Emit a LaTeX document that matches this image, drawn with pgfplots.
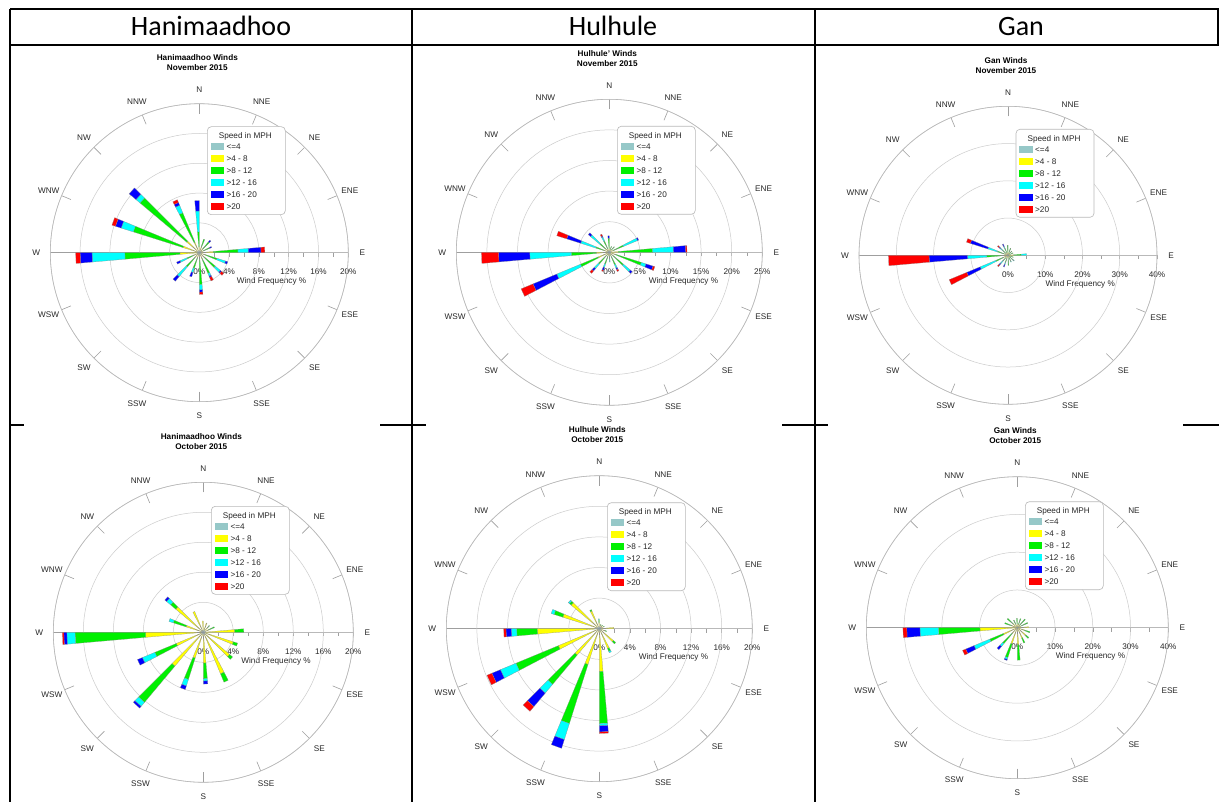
\documentclass[border=0pt]{standalone}
\usepackage{fontspec}
\setmainfont{Liberation Sans}
\newfontfamily\calibri{Carlito}
\usepackage{pgfplots}
\pgfplotsset{compat=1.18}
\usepgfplotslibrary{polar}

\definecolor{wgrey}{RGB}{150,200,200}
\definecolor{wyellow}{RGB}{255,255,0}
\definecolor{wgreen}{RGB}{0,240,0}
\definecolor{wcyan}{RGB}{0,255,255}
\definecolor{wblue}{RGB}{0,0,255}
\definecolor{wred}{RGB}{255,0,0}
\definecolor{txt}{RGB}{40,40,40}

% one stacked segment of a wedge: from radius #1 to #2, colour #3
\newcommand\wseg[3]{%
  \ifdim #2pt>#1pt\relax
    \edef\tmp{\noexpand\addplot[draw=black!45,line width=0.2pt,fill=#3,forget plot] coordinates {(\aA,#1) (\aB,#1) (\aB,#2) (\aA,#2)} --cycle;}\tmp
  \fi}
% compass direction #1, cumulative ends of <=4, >4-8, >8-12, >12-16, >16-20, >20
\newcommand\wbar[7]{%
  \pgfmathsetmacro\aA{mod(450-#1,360)}%
  \pgfmathsetmacro\aB{\aA+5}%
  \wseg{0}{#2}{wgrey}\wseg{#2}{#3}{wyellow}\wseg{#3}{#4}{wgreen}%
  \wseg{#4}{#5}{wcyan}\wseg{#5}{#6}{wblue}\wseg{#6}{#7}{wred}}

\tikzset{lab/.style={font=\fontsize{8.2}{9.5}\selectfont, text=txt, inner sep=0pt}}

% frame: #1 cx, #2 cy (px, downward), #3 R, #4 ymax, #5 label list, #6 tick list, #7 title, #8 subtitle
\newcommand\roseframe[8]{%
  \begin{scope}[shift={(#1,-#2)}]
    \draw[gray!75, line width=0.6pt] (-#3,0) -- (#3,0);
    \foreach \a in {0,22.5,...,337.5}
      \draw[gray!75, line width=0.6pt] ({90-\a}:{#3-10}) -- ({90-\a}:{#3});
    \foreach \a/\t in {0/N,22.5/NNE,45/NE,67.5/ENE,90/E,112.5/ESE,135/SE,157.5/SSE,180/S,202.5/SSW,225/SW,247.5/WSW,270/W,292.5/WNW,315/NW,337.5/NNW}
      \node[lab] at ({90-\a}:{#3+14}) {\t};
    \foreach \v in {#6}
      \draw[gray!75, line width=0.6pt] ({#3*\v/#4},0) -- ++(0,-4);
    \foreach \v in {#5}
      \node[lab] at ({#3*\v/#4},-19) {\v\%};
    \node[lab] at ({0.485*#3},-29) {Wind Frequency \%};
    \node[lab, align=center, font=\bfseries\fontsize{8.2}{10}\selectfont, text=black] at (-2,{#3+41}) {#7\\#8};
  \end{scope}}

\newcommand\roselegend[2]{%
  \begin{scope}[shift={(#1,-#2)}]
    \draw[gray!55, fill=white, rounded corners=4pt, line width=0.6pt] (8,38) rectangle (86,126);
    \node[lab] at (46,116) {Speed in MPH};
    \foreach \y/\c/\t in {106/wgrey/{<=4},94/wyellow/{>4 - 8},82/wgreen/{>8 - 12},70/wcyan/{>12 - 16},58/wblue/{>16 - 20},46/wred/{>20}}{
      \fill[\c] (11.3,\y-3.6) rectangle (24.7,\y+3.6);
      \node[lab, anchor=west] at (27,\y) {\t};
    }
  \end{scope}}

\pgfplotsset{rose/.style={
  scale only axis, anchor=center, ymin=0, xtick=\empty, yticklabels={},
  ymajorgrids, major grid style={draw=gray!40, line width=0.5pt},
  axis line style={draw=gray!55, line width=0.6pt},
  major tick length=0pt, clip=false}}

\begin{document}
\begin{tikzpicture}[x=1pt,y=1pt]
\useasboundingbox (0,0) rectangle (1219,-802);
\fill[white] (0,0) rectangle (1219,-802);
\coordinate (c1) at (199.3,-252.7);
\coordinate (c2) at (609.3,-252.3);
\coordinate (c3) at (1008,-255.3);
\coordinate (c4) at (203.3,-632.3);
\coordinate (c5) at (599.3,-628.7);
\coordinate (c6) at (1017.3,-627.7);

% table
\begin{scope}[line width=1.2pt]
\draw (10,-9) -- (1219,-9);
\draw (10,-45) -- (1219,-45);
\draw (10,-9) -- (10,-802);
\draw (412,-9) -- (412,-802);
\draw (815,-9) -- (815,-802);
\draw (1218,-9) -- (1218,-45);
\draw (10,-425) -- (24,-425);
\draw (380,-425) -- (426,-425);
\draw (782,-425) -- (828,-425);
\draw (1183,-425) -- (1219,-425);
\end{scope}
\node[anchor=base, font=\calibri\fontsize{28}{30}\selectfont] at (211,-36) {Hanimaadhoo};
\node[anchor=base, font=\calibri\fontsize{28}{30}\selectfont] at (613,-36) {Hulhule};
\node[anchor=base, font=\calibri\fontsize{28}{30}\selectfont] at (1021,-36) {Gan};

% ---------- Hanimaadhoo November 2015
\roseframe{199.3}{252.7}{149}{20}{0,4,8,12,16,20}{2,4,...,20}{Hanimaadhoo Winds}{November 2015}
\begin{polaraxis}[rose, at={(c1)}, width=298pt, height=298pt, ymax=20, ytick={4,8,12,16,20}]
\wbar{0}{0.3}{0.8}{2.8}{5.6}{7.0}{7.0}
\wbar{22.5}{0.3}{0.8}{1.9}{1.9}{1.9}{1.9}
\wbar{45}{0.3}{0.7}{1.9}{1.9}{2.2}{2.2}
\wbar{67.5}{0.3}{0.6}{1.5}{1.5}{1.8}{1.8}
\wbar{90}{0.3}{1.9}{5.2}{6.6}{8.3}{8.8}
\wbar{112.5}{0.3}{0.9}{2.5}{3.7}{4.0}{4.0}
\wbar{135}{0.3}{0.9}{2.8}{3.7}{3.9}{4.3}
\wbar{157.5}{0.3}{0.9}{3.0}{3.4}{3.6}{4.1}
\wbar{180}{0.3}{0.9}{4.3}{5.0}{5.3}{5.6}
\wbar{202.5}{0.3}{0.8}{2.2}{2.8}{3.4}{3.4}
\wbar{225}{0.3}{0.9}{2.5}{4.2}{5.0}{5.0}
\wbar{247.5}{0.3}{0.8}{1.8}{2.8}{3.3}{3.3}
\wbar{270}{0.3}{2.6}{10.0}{14.4}{16.0}{16.6}
\wbar{292.5}{0.3}{2.3}{9.3}{11.0}{11.8}{12.3}
\wbar{315}{0.3}{2.2}{10.4}{11.1}{12.3}{12.3}
\wbar{337.5}{0.3}{1.5}{5.8}{6.9}{7.3}{7.7}
\end{polaraxis}
\roselegend{199.3}{252.7}

% ---------- Hulhule November 2015
\roseframe{609.3}{252.3}{153}{25}{0,5,10,15,20,25}{2.5,5,...,25}{Hulhule' Winds}{November 2015}
\begin{polaraxis}[rose, at={(c2)}, width=306pt, height=306pt, ymax=25, ytick={5,10,15,20,25}]
\wbar{0}{0.3}{0.6}{2.3}{2.3}{2.7}{2.7}
\wbar{22.5}{0.3}{0.5}{1.0}{1.0}{1.0}{1.0}
\wbar{45}{0.3}{0.5}{1.2}{1.2}{1.2}{1.2}
\wbar{67.5}{0.3}{0.8}{2.5}{5.0}{5.2}{5.2}
\wbar{90}{0.3}{1.5}{7.1}{10.5}{12.5}{12.7}
\wbar{112.5}{0.3}{1.0}{5.5}{6.3}{7.5}{7.8}
\wbar{135}{0.3}{0.8}{3.0}{4.5}{4.9}{4.9}
\wbar{157.5}{0.3}{0.6}{2.2}{2.8}{3.1}{3.4}
\wbar{180}{0.3}{0.5}{1.2}{1.6}{1.6}{1.6}
\wbar{202.5}{0.3}{0.6}{2.0}{2.6}{3.1}{3.3}
\wbar{225}{0.3}{0.7}{2.5}{3.5}{4.0}{4.5}
\wbar{247.5}{0.3}{2.0}{5.1}{9.3}{13.5}{15.6}
\wbar{270}{0.3}{2.1}{6.2}{13.0}{18.1}{20.9}
\wbar{292.5}{0.3}{1.0}{2.3}{4.9}{7.3}{9.0}
\wbar{315}{0.3}{0.8}{2.0}{4.0}{4.5}{4.5}
\wbar{337.5}{0.3}{0.6}{2.0}{2.7}{2.9}{3.2}
\end{polaraxis}
\roselegend{609.3}{252.3}

% ---------- Gan November 2015
\roseframe{1008}{255.3}{149}{40}{0,10,20,30,40}{5,10,...,40}{Gan Winds}{November 2015}
\begin{polaraxis}[rose, at={(c3)}, width=298pt, height=298pt, ymax=40, ytick={10,20,30,40}]
\wbar{0}{0.3}{0.8}{2.7}{2.7}{2.7}{2.7}
\wbar{22.5}{0.3}{0.8}{2.0}{2.0}{2.0}{2.0}
\wbar{45}{0.3}{0.6}{1.5}{1.5}{1.5}{1.5}
\wbar{67.5}{0.3}{0.6}{1.5}{1.5}{1.5}{1.5}
\wbar{90}{0.3}{1.5}{3.6}{5.0}{5.0}{5.0}
\wbar{112.5}{0.3}{0.6}{1.5}{1.5}{1.5}{1.5}
\wbar{135}{0.3}{0.6}{1.8}{2.2}{2.2}{2.2}
\wbar{157.5}{0.3}{0.6}{1.8}{2.0}{2.0}{2.0}
\wbar{180}{0.3}{0.8}{2.7}{2.7}{2.7}{2.7}
\wbar{202.5}{0.3}{0.8}{2.0}{2.6}{3.3}{3.3}
\wbar{225}{0.3}{0.8}{2.0}{3.0}{3.5}{4.0}
\wbar{247.5}{0.3}{1.5}{3.5}{8.1}{12.0}{17.1}
\wbar{270}{0.3}{1.7}{5.7}{10.9}{21.2}{32.1}
\wbar{292.5}{0.3}{1.0}{3.0}{5.7}{10.6}{11.7}
\wbar{315}{0.3}{0.8}{2.0}{2.8}{3.2}{3.7}
\wbar{337.5}{0.3}{0.8}{2.0}{2.6}{3.3}{3.3}
\end{polaraxis}
\roselegend{1008}{255.3}

% ---------- Hanimaadhoo October 2015
\roseframe{203.3}{632.3}{150}{20}{0,4,8,12,16,20}{2,4,...,20}{Hanimaadhoo Winds}{October 2015}
\begin{polaraxis}[rose, at={(c4)}, width=300pt, height=300pt, ymax=20, ytick={4,8,12,16,20}]
\wbar{0}{0.3}{1.5}{1.5}{1.5}{1.5}{1.5}
\wbar{22.5}{0.3}{1.3}{1.3}{1.3}{1.3}{1.3}
\wbar{45}{0.3}{0.8}{1.2}{1.2}{1.2}{1.2}
\wbar{67.5}{0.3}{0.8}{1.6}{1.6}{1.6}{1.6}
\wbar{90}{0.3}{4.2}{5.4}{5.4}{5.4}{5.4}
\wbar{112.5}{0.3}{4.2}{4.8}{4.8}{4.8}{4.8}
\wbar{135}{0.3}{4.6}{5.1}{5.1}{5.1}{5.1}
\wbar{157.5}{0.3}{6.0}{7.2}{7.2}{7.2}{7.2}
\wbar{180}{0.3}{4.1}{6.2}{6.5}{6.9}{6.9}
\wbar{202.5}{0.3}{3.6}{6.6}{7.5}{8.0}{8.0}
\wbar{225}{0.3}{5.9}{12.2}{12.9}{13.2}{13.2}
\wbar{247.5}{0.3}{3.9}{7.0}{8.8}{9.5}{9.5}
\wbar{270}{0.4}{7.7}{17.1}{18.2}{18.6}{18.8}
\wbar{292.5}{0.3}{2.4}{4.2}{4.8}{4.8}{4.8}
\wbar{315}{0.3}{4.8}{5.7}{6.4}{6.7}{6.7}
\wbar{337.5}{0.3}{3.0}{3.0}{3.0}{3.0}{3.0}
\end{polaraxis}
\roselegend{203.3}{632.3}

% ---------- Hulhule October 2015
\roseframe{599.3}{628.7}{153}{20}{0,4,8,12,16,20}{2,4,...,20}{Hulhule Winds}{October 2015}
\begin{polaraxis}[rose, at={(c5)}, width=306pt, height=306pt, ymax=20, ytick={4,8,12,16,20}]
\wbar{0}{0.3}{0.8}{1.2}{1.3}{1.3}{1.3}
\wbar{22.5}{0.3}{0.5}{0.6}{0.6}{0.6}{0.6}
\wbar{45}{0.3}{0.5}{0.6}{0.6}{0.6}{0.6}
\wbar{67.5}{0.3}{0.6}{0.7}{0.7}{0.7}{0.7}
\wbar{90}{0.3}{1.9}{1.9}{1.9}{1.9}{1.9}
\wbar{112.5}{0.3}{0.8}{1.0}{1.0}{1.0}{1.0}
\wbar{135}{0.3}{2.4}{2.8}{2.8}{2.8}{2.8}
\wbar{157.5}{0.3}{2.8}{3.2}{3.4}{3.4}{3.4}
\wbar{180}{0.3}{5.6}{12.4}{12.7}{13.5}{13.7}
\wbar{202.5}{0.3}{4.9}{13.0}{15.2}{16.4}{16.4}
\wbar{225}{0.3}{4.5}{9.5}{11.0}{13.3}{14.1}
\wbar{247.5}{0.3}{5.8}{11.8}{14.0}{15.2}{15.9}
\wbar{270}{0.6}{8.1}{10.8}{11.5}{12.2}{12.5}
\wbar{292.5}{0.3}{5.0}{6.2}{6.6}{6.6}{6.6}
\wbar{315}{0.3}{4.8}{5.1}{5.3}{5.3}{5.3}
\wbar{337.5}{0.3}{2.5}{2.7}{2.7}{2.7}{2.7}
\end{polaraxis}
\roselegend{599.3}{628.7}

% ---------- Gan October 2015
\roseframe{1017.3}{627.7}{151}{40}{0,10,20,30,40}{5,10,...,40}{Gan Winds}{October 2015}
\begin{polaraxis}[rose, at={(c6)}, width=302pt, height=302pt, ymax=40, ytick={10,20,30,40}]
\wbar{0}{0.3}{1.0}{2.5}{2.5}{2.5}{2.5}
\wbar{22.5}{0.3}{1.0}{2.5}{2.5}{2.5}{2.5}
\wbar{45}{0.3}{1.0}{3.0}{3.0}{3.0}{3.0}
\wbar{67.5}{0.3}{1.0}{3.0}{3.0}{3.0}{3.0}
\wbar{90}{0.3}{3.0}{3.0}{3.0}{3.0}{3.0}
\wbar{112.5}{0.3}{2.0}{3.5}{3.5}{3.5}{3.5}
\wbar{135}{0.3}{3.0}{4.0}{4.0}{4.0}{4.0}
\wbar{157.5}{0.3}{3.0}{4.4}{4.4}{4.4}{4.4}
\wbar{180}{0.3}{4.5}{8.6}{8.6}{8.6}{8.6}
\wbar{202.5}{0.3}{4.5}{8.3}{8.8}{9.1}{9.1}
\wbar{225}{0.3}{2.0}{5.5}{6.5}{7.6}{7.6}
\wbar{247.5}{0.3}{4.0}{7.9}{12.4}{14.8}{15.7}
\wbar{270}{0.5}{9.9}{20.9}{25.8}{29.3}{30.3}
\wbar{292.5}{0.3}{1.5}{3.5}{3.5}{3.5}{3.5}
\wbar{315}{0.3}{1.5}{3.5}{3.5}{3.5}{3.5}
\wbar{337.5}{0.3}{1.0}{2.2}{2.2}{2.2}{2.2}
\end{polaraxis}
\roselegend{1017.3}{627.7}
\end{tikzpicture}
\end{document}
